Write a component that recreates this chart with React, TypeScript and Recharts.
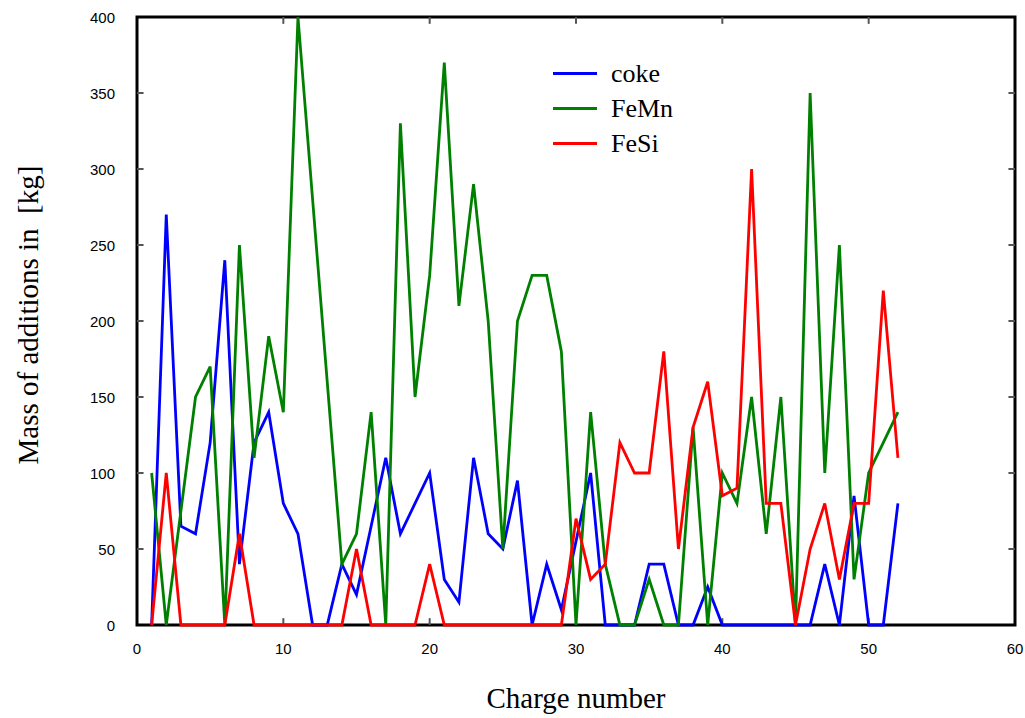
import React from 'react';
import { LineChart, Line, XAxis, YAxis, ReferenceLine, ReferenceArea, Legend } from 'recharts';

// charge numbers 1..52
const charges = [
  1, 2, 3, 4, 5, 6, 7, 8, 9, 10, 11, 12, 13, 14, 15, 16, 17, 18, 19, 20, 21, 22, 23, 24, 25, 26,
  27, 28, 29, 30, 31, 32, 33, 34, 35, 36, 37, 38, 39, 40, 41, 42, 43, 44, 45, 46, 47, 48, 49, 50, 51, 52,
];

const coke = [
  0, 270, 65, 60, 120, 240, 40, 120, 140, 80, 60, 0, 0, 40, 20, 65, 110, 60, 80, 100, 30, 15, 110, 60, 50, 95,
  0, 40, 10, 55, 100, 0, 0, 0, 40, 40, 0, 0, 25, 0, 0, 0, 0, 0, 0, 0, 40, 0, 85, 0, 0, 80,
];

const feMn = [
  100, 0, 75, 150, 170, 0, 250, 110, 190, 140, 400, 280, 160, 40, 60, 140, 0, 330, 150, 230, 370, 210, 290, 200, 50, 200,
  230, 230, 180, 0, 140, 40, 0, 0, 30, 0, 0, 130, 0, 100, 80, 150, 60, 150, 0, 350, 100, 250, 30, 100, 120, 140,
];

const feSi = [
  0, 100, 0, 0, 0, 0, 60, 0, 0, 0, 0, 0, 0, 0, 50, 0, 0, 0, 0, 40, 0, 0, 0, 0, 0, 0,
  0, 0, 0, 70, 30, 40, 120, 100, 100, 180, 50, 130, 160, 85, 90, 300, 80, 80, 0, 50, 80, 30, 80, 80, 220, 110,
];

const xTicks = [0, 10, 20, 30, 40, 50, 60];
const yTicks = [0, 50, 100, 150, 200, 250, 300, 350, 400];

const seriesInfo = [
  { key: 'coke', name: 'coke', color: '#0000ff' },
  { key: 'feMn', name: 'FeMn', color: '#008000' },
  { key: 'feSi', name: 'FeSi', color: '#ff0000' },
];

const data = charges.map((c, i) => ({ charge: c, coke: coke[i], feMn: feMn[i], feSi: feSi[i] }));

const W = 1025;
const H = 718;
const PLOT_LEFT = 137;
const PLOT_TOP = 17;
const PLOT_RIGHT = 1015;
const PLOT_BOTTOM = 625;

const sans = '"Liberation Sans", Arial, sans-serif';
const serif = '"Liberation Serif", "Times New Roman", serif';

const XTick = (props: any) => (
  <text x={props.x} y={PLOT_BOTTOM + 29} textAnchor="middle" fontFamily={sans} fontSize={15} fill="#000">
    {props.payload.value}
  </text>
);

const YTick = (props: any) => (
  <text x={PLOT_LEFT - 22} y={props.y + 6} textAnchor="end" fontFamily={sans} fontSize={15} fill="#000">
    {props.payload.value}
  </text>
);

const LegendBox = () => (
  <div style={{ fontFamily: serif, fontSize: 26, lineHeight: '35px', color: '#000' }}>
    {seriesInfo.map((s) => (
      <div key={s.key} style={{ display: 'flex', alignItems: 'center' }}>
        <div style={{ width: 44, height: 3, background: s.color, marginRight: 14 }} />
        <span>{s.name}</span>
      </div>
    ))}
  </div>
);

const tickStroke = '#555';

export default function App() {
  return (
    <div style={{ position: 'absolute', left: 0, top: 0, width: W, height: H, background: '#fff' }}>
      <LineChart
        width={W}
        height={H}
        data={data}
        margin={{ top: PLOT_TOP, right: W - PLOT_RIGHT, left: 0, bottom: 0 }}
      >
        <XAxis
          dataKey="charge"
          type="number"
          domain={[0, 60]}
          ticks={xTicks}
          height={H - PLOT_BOTTOM}
          tickLine={false}
          axisLine={false}
          tick={<XTick />}
          label={{ value: 'Charge number', position: 'insideBottom', offset: 10, fontFamily: serif, fontSize: 29, fill: '#000' }}
        />
        <YAxis
          type="number"
          domain={[0, 400]}
          ticks={yTicks}
          width={PLOT_LEFT}
          tickLine={false}
          axisLine={false}
          tick={<YTick />}
          label={{ value: 'Mass of additions in\u00a0 [kg]', angle: -90, position: 'insideLeft', offset: 28, dy: -6, style: { textAnchor: 'middle' }, fontFamily: serif, fontSize: 29, fill: '#000' }}
        />

        {xTicks.slice(1, -1).map((t) => (
          <ReferenceLine key={`xb${t}`} segment={[{ x: t, y: 0 }, { x: t, y: 4.5 }]} stroke={tickStroke} strokeWidth={2} />
        ))}
        {xTicks.slice(1, -1).map((t) => (
          <ReferenceLine key={`xt${t}`} segment={[{ x: t, y: 400 }, { x: t, y: 395.5 }]} stroke={tickStroke} strokeWidth={2} />
        ))}
        {yTicks.slice(1, -1).map((t) => (
          <ReferenceLine key={`yl${t}`} segment={[{ x: 0, y: t }, { x: 0.45, y: t }]} stroke={tickStroke} strokeWidth={2} />
        ))}
        {yTicks.slice(1, -1).map((t) => (
          <ReferenceLine key={`yr${t}`} segment={[{ x: 60, y: t }, { x: 59.55, y: t }]} stroke={tickStroke} strokeWidth={2} />
        ))}

        {seriesInfo.map((s) => (
          <Line
            key={s.key}
            type="linear"
            dataKey={s.key}
            name={s.name}
            stroke={s.color}
            strokeWidth={2.8}
            dot={false}
            activeDot={false}
            isAnimationActive={false}
          />
        ))}

        <ReferenceArea x1={0} x2={60} y1={0} y2={400} fill="none" stroke="#000" strokeWidth={3} ifOverflow="visible" />

        <Legend
          layout="vertical"
          align="center"
          verticalAlign="middle"
          content={<LegendBox />}
          wrapperStyle={{ position: 'absolute', left: 553, top: 56, width: 160 }}
        />
      </LineChart>
    </div>
  );
}
